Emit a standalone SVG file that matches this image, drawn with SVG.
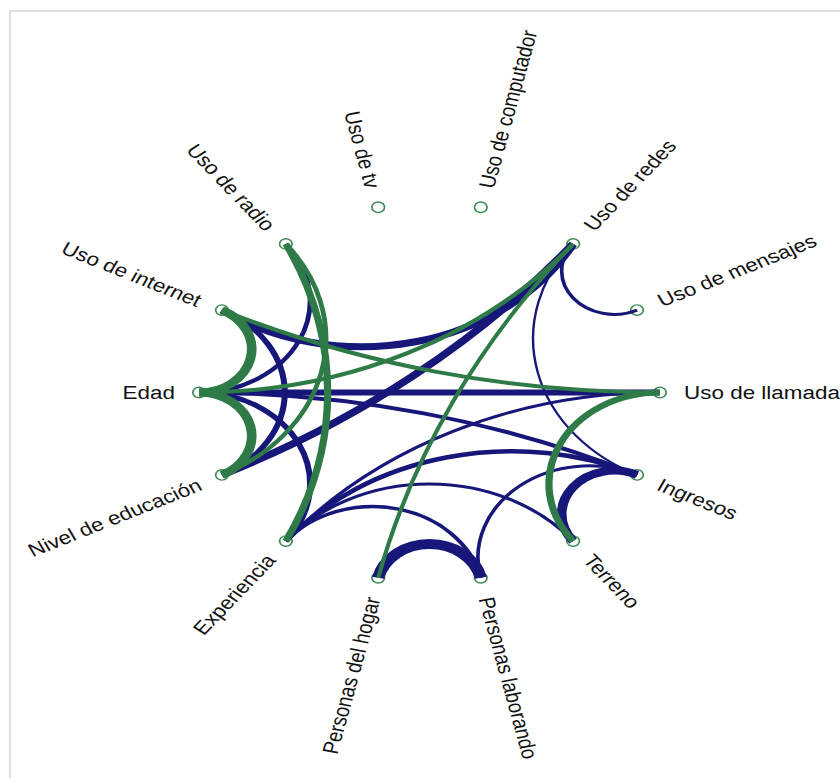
<svg xmlns="http://www.w3.org/2000/svg" width="840" height="778" viewBox="0 0 840 778">
<style>
.lbl{font-family:"Liberation Sans",Arial,sans-serif;font-size:18.5px;fill:#111}
.l{text-anchor:end}
.nd{fill:#fff;stroke:#3a8a55;stroke-width:1.4}
.e{fill:none;stroke-linecap:butt}
.b{stroke:#17177a}
.g{stroke:#2e7b48}
</style>
<rect x="10" y="11" width="900" height="900" fill="#fff" stroke="#d6d6d6" stroke-width="1.5"/>
<g transform="translate(429.5,392.5) scale(1.2125,1)">
<g id="nodes">
<g id="n-llamadas"><circle class="nd" cx="190" cy="0" r="5.2"/><g transform="rotate(0)"><text class="lbl" x="210" y="0" dy="0.35em">Uso de llamadas</text></g></g>
<g id="n-mensajes"><circle class="nd" cx="171.18" cy="-82.44" r="5.2"/><g transform="rotate(-25.714)"><text class="lbl" x="210" y="0" dy="0.35em">Uso de mensajes</text></g></g>
<g id="n-redes"><circle class="nd" cx="118.46" cy="-148.55" r="5.2"/><g transform="rotate(-51.429)"><text class="lbl" x="210" y="0" dy="0.35em">Uso de redes</text></g></g>
<g id="n-computador"><circle class="nd" cx="42.28" cy="-185.24" r="5.2"/><g transform="rotate(-77.143)"><text class="lbl" x="210" y="0" dy="0.35em">Uso de computador</text></g></g>
<g id="n-tv"><circle class="nd" cx="-42.28" cy="-185.24" r="5.2"/><g transform="rotate(77.143)"><text class="lbl l" x="-210" y="0" dy="0.35em">Uso de tv</text></g></g>
<g id="n-radio"><circle class="nd" cx="-118.46" cy="-148.55" r="5.2"/><g transform="rotate(51.429)"><text class="lbl l" x="-210" y="0" dy="0.35em">Uso de radio</text></g></g>
<g id="n-internet"><circle class="nd" cx="-171.18" cy="-82.44" r="5.2"/><g transform="rotate(25.714)"><text class="lbl l" x="-210" y="0" dy="0.35em">Uso de internet</text></g></g>
<g id="n-edad"><circle class="nd" cx="-190" cy="0" r="5.2"/><g transform="rotate(0)"><text class="lbl l" x="-210" y="0" dy="0.35em">Edad</text></g></g>
<g id="n-educacion"><circle class="nd" cx="-171.18" cy="82.44" r="5.2"/><g transform="rotate(-25.714)"><text class="lbl l" x="-210" y="0" dy="0.35em">Nivel de educación</text></g></g>
<g id="n-experiencia"><circle class="nd" cx="-118.46" cy="148.55" r="5.2"/><g transform="rotate(-51.429)"><text class="lbl l" x="-210" y="0" dy="0.35em">Experiencia</text></g></g>
<g id="n-hogar"><circle class="nd" cx="-42.28" cy="185.24" r="5.2"/><g transform="rotate(-77.143)"><text class="lbl l" x="-210" y="0" dy="0.35em">Personas del hogar</text></g></g>
<g id="n-laborando"><circle class="nd" cx="42.28" cy="185.24" r="5.2"/><g transform="rotate(77.143)"><text class="lbl" x="210" y="0" dy="0.35em">Personas laborando</text></g></g>
<g id="n-terreno"><circle class="nd" cx="118.46" cy="148.55" r="5.2"/><g transform="rotate(51.429)"><text class="lbl" x="210" y="0" dy="0.35em">Terreno</text></g></g>
<g id="n-ingresos"><circle class="nd" cx="171.18" cy="82.44" r="5.2"/><g transform="rotate(25.714)"><text class="lbl" x="210" y="0" dy="0.35em">Ingresos</text></g></g>
</g>
<g id="edges">
<path class="e b" stroke-width="6" transform="rotate(-90)" d="M0,-190 L0,190"/>
<path class="e b" stroke-width="4" transform="rotate(-257.14)" d="M42.28,-185.24 A832.45,832.45 0 0 0 42.28,185.24"/>
<path class="e b" stroke-width="7" transform="rotate(-102.86)" d="M118.46,-148.55 A199.3,199.3 0 0 0 118.46,148.55"/>
<path class="e b" stroke-width="7" transform="rotate(-128.57)" d="M42.28,-185.24 A832.45,832.45 0 0 0 42.28,185.24"/>
<path class="e b" stroke-width="5" transform="rotate(-180)" d="M171.18,-82.44 A91.5,91.5 0 0 0 171.18,82.44"/>
<path class="e b" stroke-width="4" transform="rotate(-154.29)" d="M171.18,-82.44 A91.5,91.5 0 0 0 171.18,82.44"/>
<path class="e b" stroke-width="5" transform="rotate(-205.71)" d="M171.18,-82.44 A91.5,91.5 0 0 0 171.18,82.44"/>
<path class="e b" stroke-width="4.5" transform="rotate(-282.86)" d="M118.46,-148.55 A238.25,238.25 0 0 0 118.46,148.55"/>
<path class="e b" stroke-width="3" transform="rotate(-295.71)" d="M82.44,-171.18 A394.54,394.54 0 0 0 82.44,171.18"/>
<path class="e b" stroke-width="3" transform="rotate(-270)" d="M148.55,-118.46 A151.52,151.52 0 0 0 148.55,118.46"/>
<path class="e b" stroke-width="3.5" transform="rotate(-257.14)" d="M171.18,-82.44 A91.5,91.5 0 0 0 171.18,82.44"/>
<path class="e b" stroke-width="10" transform="rotate(-270)" d="M185.24,-42.28 A43.37,43.37 0 0 0 185.24,42.28"/>
<path class="e b" stroke-width="3" transform="rotate(-308.57)" d="M171.18,-82.44 A91.5,91.5 0 0 0 171.18,82.44"/>
<path class="e b" stroke-width="8" transform="rotate(-321.43)" d="M185.24,-42.28 A43.37,43.37 0 0 0 185.24,42.28"/>
<path class="e b" stroke-width="3" transform="rotate(-38.57)" d="M185.24,-42.28 A43.37,43.37 0 0 0 185.24,42.28"/>
<path class="e b" stroke-width="2" transform="rotate(-12.86)" d="M148.55,-118.46 A151.52,151.52 0 0 0 148.55,118.46"/>
<path class="e g" stroke-width="8" transform="rotate(-167.14)" d="M185.24,-42.28 A43.37,43.37 0 0 0 185.24,42.28"/>
<path class="e g" stroke-width="8" transform="rotate(-192.86)" d="M185.24,-42.28 A43.37,43.37 0 0 0 185.24,42.28"/>
<path class="e g" stroke-width="6" transform="rotate(-180)" d="M118.46,-148.55 A337.4,337.4 0 0 0 118.46,148.55"/>
<path class="e g" stroke-width="4" transform="rotate(-167.14)" d="M148.55,-118.46 A151.52,151.52 0 0 0 148.55,118.46"/>
<path class="e g" stroke-width="4" transform="rotate(-77.14)" d="M42.28,-185.24 A832.45,832.45 0 0 0 42.28,185.24"/>
<path class="e g" stroke-width="6" transform="rotate(-334.29)" d="M171.18,-82.44 A91.5,91.5 0 0 0 171.18,82.44"/>
<path class="e g" stroke-width="3.5" transform="rotate(-334.29)" d="M42.28,-185.24 A832.45,832.45 0 0 0 42.28,185.24"/>
<path class="e g" stroke-width="4" transform="rotate(-115.71)" d="M82.44,-171.18 A394.54,394.54 0 0 0 82.44,171.18"/>
</g>
</g>
</svg>
